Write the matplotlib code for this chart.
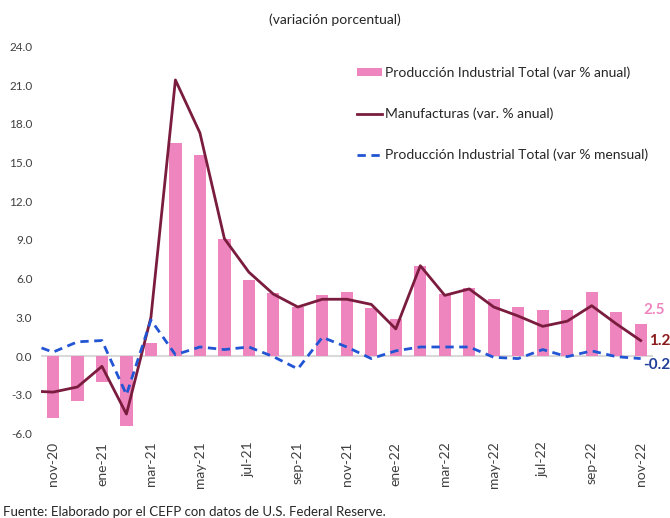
import numpy as np
import matplotlib.pyplot as plt
from matplotlib.patches import Patch
from matplotlib.lines import Line2D

plt.rcParams['font.family'] = ['Lato', 'DejaVu Sans']

# months (oct-20 is only used so the lines enter from the left edge)
months = ['oct-20', 'nov-20', 'dic-20', 'ene-21', 'feb-21', 'mar-21', 'abr-21', 'may-21',
          'jun-21', 'jul-21', 'ago-21', 'sep-21', 'oct-21', 'nov-21', 'dic-21',
          'ene-22', 'feb-22', 'mar-22', 'abr-22', 'may-22', 'jun-22', 'jul-22',
          'ago-22', 'sep-22', 'oct-22', 'nov-22']

# Producción Industrial Total (var % anual), nov-20 .. nov-22
ip_anual = [-4.8, -3.5, -2.0, -5.4, 1.0, 16.5, 15.6, 9.1, 5.9, 4.9, 3.8, 4.7,
            5.0, 3.7, 2.9, 7.0, 4.8, 5.3, 4.4, 3.8, 3.6, 3.6, 5.0, 3.4, 2.5]

# Manufacturas (var. % anual), oct-20 .. nov-22
manuf = [-2.7, -2.8, -2.4, -0.8, -4.5, 3.0, 21.4, 17.3, 9.1, 6.5, 4.8, 3.8, 4.4,
         4.4, 4.0, 2.1, 7.0, 4.7, 5.2, 3.8, 3.1, 2.3, 2.7, 3.9, 2.5, 1.2]

# Producción Industrial Total (var % mensual), oct-20 .. nov-22
ip_mensual = [1.0, 0.3, 1.1, 1.2, -3.0, 2.8, 0.1, 0.7, 0.5, 0.7, -0.05, -1.0, 1.45,
              0.7, -0.2, 0.4, 0.7, 0.7, 0.7, -0.1, -0.2, 0.5, -0.05, 0.4, -0.05, -0.2]

x_line = np.arange(len(months)) - 1
x_bar = np.arange(len(ip_anual))

pink = '#EF85BF'
maroon = '#7A1C3E'
blue = '#2255D4'

fig = plt.figure(figsize=(6.7, 5.18), dpi=100)
ax = fig.add_axes([0.0608, 0.1633, 0.9137, 0.7471])

ax.axhline(0, color='#D9D9D9', linewidth=1.5, zorder=1)
ax.bar(x_bar, ip_anual, width=0.5, color=pink, zorder=2)
ax.plot(x_line, manuf, color=maroon, linewidth=2.0, zorder=3)
ax.plot(x_line, ip_mensual, color=blue, linewidth=2.0, linestyle=(0, (3, 2)), zorder=4)

ax.set_xlim(-0.5, 24.5)
ax.set_ylim(-6, 24)
ax.set_yticks(np.arange(-6, 25, 3))
ax.set_yticklabels([f'{v:.1f}' for v in np.arange(-6, 25, 3)])
ax.set_xticks(x_bar[::2])
ax.set_xticklabels(months[1::2], rotation=90)
ax.tick_params(axis='y', length=0, labelsize=8.5, labelcolor='#404040', pad=6)
ax.tick_params(axis='x', length=0, labelsize=10, labelcolor='#404040', pad=6)
for s in ax.spines.values():
    s.set_visible(False)

# end labels
ax.text(24.1, ip_anual[-1] + 0.5, '2.5', color=pink, fontsize=11, fontweight='bold',
        ha='left', va='bottom')
ax.text(24.35, manuf[-1], '1.2', color='#8B1A1A', fontsize=11, fontweight='bold',
        ha='left', va='center')
ax.text(24.1, ip_mensual[-1] - 0.5, '-0.2', color='#1F3F99', fontsize=11, fontweight='bold',
        ha='left', va='center')

handles = [
    Patch(facecolor=pink, label='Producción Industrial Total (var % anual)'),
    Line2D([0], [0], color=maroon, linewidth=2, label='Manufacturas (var. % anual)'),
    Line2D([0], [0], color=blue, linewidth=2, linestyle=(0, (3, 2)),
           label='Producción Industrial Total (var % mensual)'),
]
ax.legend(handles=handles, loc='upper left', bbox_to_anchor=(0.496, 0.98), frameon=False,
          fontsize=10, labelspacing=2.05, handlelength=1.8, handleheight=0.5,
          handletextpad=0.2, labelcolor='#262626')

fig.text(0.5, 0.962, '(variación porcentual)', ha='center', va='center', fontsize=10,
         color='#262626')
fig.text(0.005, 0.012, 'Fuente: Elaborado por el CEFP con datos de U.S. Federal Reserve.',
         ha='left', va='center', fontsize=9.5, color='#262626')

fig.savefig('out.png', dpi=100, facecolor='white')
